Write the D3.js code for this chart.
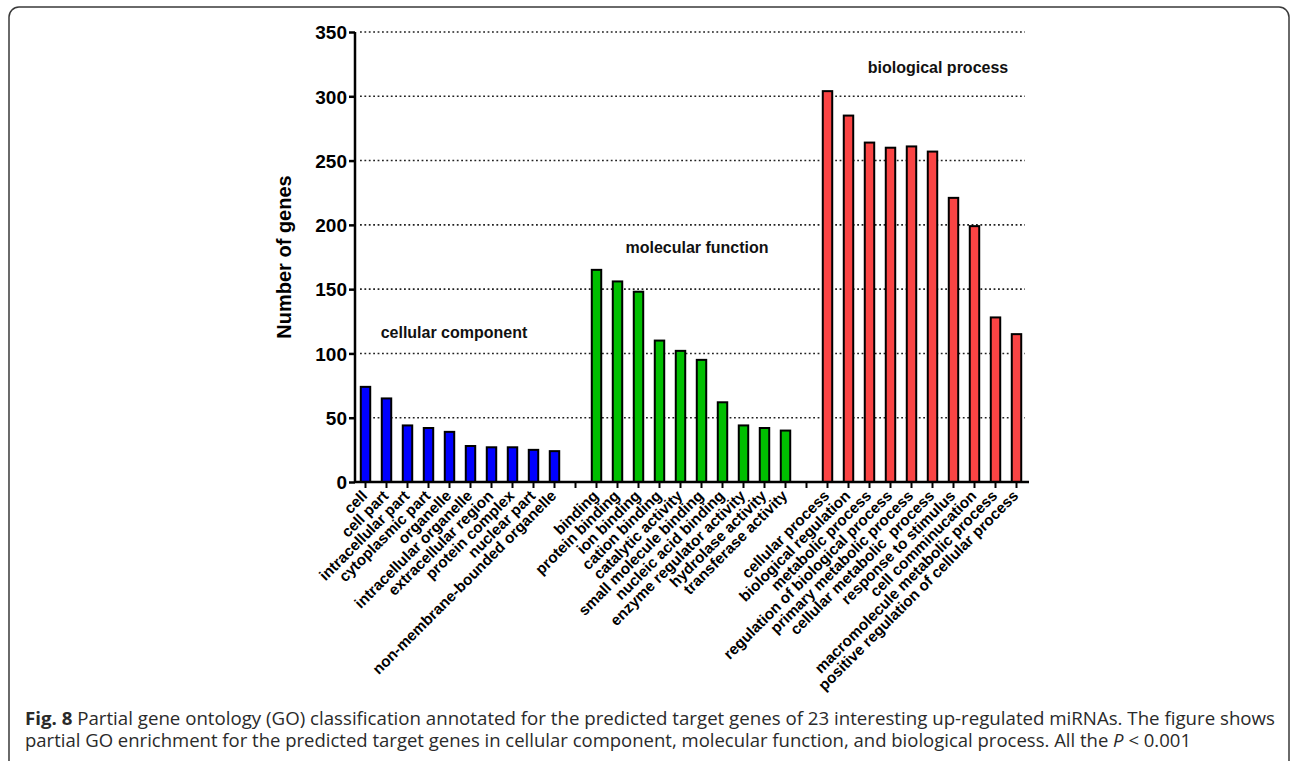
<!DOCTYPE html>
<html>
<head>
<meta charset="utf-8">
<script src="https://cdn.jsdelivr.net/npm/d3@7"></script>
<style>
  html, body { margin: 0; padding: 0; background: #fff; }
  svg { display: block; }
</style>
</head>
<body>
<svg id="chart" width="1292" height="761"></svg>
<script>
// ---- data ----
const cellularCategories = ["cell", "cell part", "intracellular part", "cytoplasmic part", "organelle",
  "intracellular organelle", "extracellular region", "protein complex", "nuclear part", "non-membrane-bounded organelle"];
const cellularValues = [74, 65, 44, 42, 39, 28, 27, 27, 25, 24];

const molecularCategories = ["binding", "protein binding", "ion binding", "cation binding", "catalytic activity",
  "small molecule binding", "nucleic acid binding", "enzyme regulator activity", "hydrolase activity", "transferase activity"];
const molecularValues = [165, 156, 148, 110, 102, 95, 62, 44, 42, 40];

const biologicalCategories = ["cellular process", "biological regulation", "metabolic process",
  "regulation of biological process", "primary metabolic process", "cellular metabolic  process",
  "response to stimulus", "cell comminucation", "macromolecule metabolic process", "positive regulation of cellular process"];
const biologicalValues = [304, 285, 264, 260, 261, 257, 221, 199, 128, 115];

const groupNames = ["cellular component", "molecular function", "biological process"];
const groupColors = ["#0000ff", "#00bf00", "#fa4444"];
const yTicks = [0, 50, 100, 150, 200, 250, 300, 350];
const yTitle = "Number of genes";
const captionBold = "Fig. 8";
const captionLine1 = " Partial gene ontology (GO) classification annotated for the predicted target genes of 23 interesting up-regulated miRNAs. The figure shows";
const captionLine2a = "partial GO enrichment for the predicted target genes in cellular component, molecular function, and biological process. All the ";
const captionLine2b = "P";
const captionLine2c = " < 0.001";

(function () {
// ---- build slots ----
const groups = [
  { cats: cellularCategories, vals: cellularValues },
  { cats: molecularCategories, vals: molecularValues },
  { cats: biologicalCategories, vals: biologicalValues }
];
const slots = [];
const bars = [];
groups.forEach((g, gi) => {
  if (gi > 0) slots.push("__gap" + gi);
  g.cats.forEach((c, i) => {
    slots.push(c);
    bars.push({ cat: c, value: g.vals[i], group: gi });
  });
});

const svg = d3.select("#chart");

// frame
svg.append("rect")
  .attr("x", 9).attr("y", 7).attr("width", 1280).attr("height", 800)
  .attr("rx", 10).attr("ry", 10)
  .attr("fill", "none").attr("stroke", "#3a3a3a").attr("stroke-width", 1.5);

const pL = 355, pR = 1027, pT = 32, pB = 482;
const x = d3.scaleBand().domain(slots).range([pL, pR]).paddingInner(0.55).paddingOuter(0.275).align(0.5);
const y = d3.scaleLinear().domain([0, 350]).range([pB, pT]);

// grid lines
svg.append("g").selectAll("line").data(yTicks.filter(t => t > 0)).join("line")
  .attr("x1", pL + 5).attr("x2", 1025)
  .attr("y1", d => y(d)).attr("y2", d => y(d))
  .attr("stroke", "#222").attr("stroke-width", 1.6)
  .attr("stroke-dasharray", "1.8,2.6");

// bars
svg.append("g").selectAll("rect").data(bars).join("rect")
  .attr("x", d => x(d.cat))
  .attr("width", x.bandwidth())
  .attr("y", d => y(d.value))
  .attr("height", d => y(0) - y(d.value))
  .attr("fill", d => groupColors[d.group])
  .attr("stroke", "#000").attr("stroke-width", 2);

// y axis
const yAxis = svg.append("g").attr("transform", `translate(${pL},0)`)
  .call(d3.axisLeft(y).tickValues(yTicks).tickSize(6).tickPadding(2));
yAxis.select(".domain").attr("stroke", "#000").attr("stroke-width", 2.5).attr("d", `M0,${pT}V${pB}`);
yAxis.selectAll(".tick line").attr("stroke", "#000").attr("stroke-width", 2.5);
yAxis.selectAll(".tick text")
  .attr("font-family", "Liberation Sans, Arial, sans-serif")
  .attr("font-weight", "bold").attr("font-size", 19).attr("fill", "#000")
  .attr("dy", "0.36em");

// x axis
const xAxis = svg.append("g").attr("transform", `translate(0,${pB})`)
  .call(d3.axisBottom(x).tickSize(6).tickFormat(d => d.startsWith("__gap") ? "" : d));
xAxis.select(".domain").attr("stroke", "#000").attr("stroke-width", 2.5).attr("d", `M${pL},0H${pR + 2}`);
xAxis.selectAll(".tick line").attr("stroke", "#000").attr("stroke-width", 2);
xAxis.selectAll(".tick text")
  .attr("font-family", "Liberation Sans, Arial, sans-serif")
  .attr("font-weight", "bold").attr("font-size", 15.3).attr("fill", "#000")
  .attr("text-anchor", "end")
  .style("white-space", "pre")
  .attr("x", 0).attr("y", 0).attr("dy", "0.35em")
  .attr("transform", "translate(-1,11) rotate(-45)");

// y title
svg.append("text")
  .attr("transform", `translate(291,${(pT + pB) / 2}) rotate(-90)`)
  .attr("text-anchor", "middle")
  .attr("font-family", "Liberation Sans, Arial, sans-serif")
  .attr("font-weight", "bold").attr("font-size", 20).attr("fill", "#000")
  .text(yTitle);

// group labels
const groupLabelPos = [
  { cx: 454, v: 112 },
  { cx: 697, v: 178 },
  { cx: 938, v: 318 }
];
svg.append("g").selectAll("text").data(groupNames).join("text")
  .attr("x", (d, i) => groupLabelPos[i].cx)
  .attr("y", (d, i) => y(groupLabelPos[i].v))
  .attr("text-anchor", "middle")
  .attr("font-family", "Liberation Sans, Arial, sans-serif")
  .attr("font-weight", "bold").attr("font-size", 16).attr("fill", "#111")
  .text(d => d);

// caption
const cap = svg.append("g").attr("font-family", "Open Sans, sans-serif").attr("font-size", 17.5).attr("fill", "#2a2a2a");
const l1 = cap.append("text").attr("x", 25).attr("y", 725)
  .attr("textLength", 1250).attr("lengthAdjust", "spacingAndGlyphs");
l1.append("tspan").attr("font-weight", "bold").text(captionBold);
l1.append("tspan").style("white-space", "pre").text(captionLine1);
const l2 = cap.append("text").attr("x", 25).attr("y", 746.5)
  .attr("textLength", 1166).attr("lengthAdjust", "spacingAndGlyphs");
l2.append("tspan").text(captionLine2a);
l2.append("tspan").attr("font-style", "italic").text(captionLine2b);
l2.append("tspan").text(captionLine2c);
})();
</script>
</body>
</html>
